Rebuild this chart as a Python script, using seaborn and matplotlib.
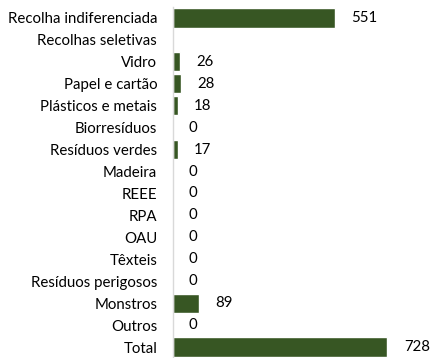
import matplotlib
matplotlib.use("Agg")
import matplotlib.pyplot as plt
import seaborn as sns
import pandas as pd

categorias = [
    "Recolha indiferenciada", "Recolhas seletivas", "Vidro", "Papel e cartão",
    "Plásticos e metais", "Biorresíduos", "Resíduos verdes", "Madeira", "REEE",
    "RPA", "OAU", "Têxteis", "Resíduos perigosos", "Monstros", "Outros", "Total",
]
valores = [551, None, 26, 28, 18, 0, 17, 0, 0, 0, 0, 0, 0, 89, 0, 728]

df = pd.DataFrame({"categoria": categorias, "valor": valores})

sns.set_theme(style="white")
plt.rcParams["font.family"] = ["Lato", "DejaVu Sans"]

fig = plt.figure(figsize=(4.30, 3.58), dpi=100)
ax = fig.add_axes([172.5 / 430, 0.0, 1 - 172.5 / 430, 351 / 358])

sns.barplot(data=df, x="valor", y="categoria", orient="h", color="#375623",
            saturation=1, width=0.88, ax=ax)

ax.set_xlim(0, 872)
ax.set_ylim(15.5, -0.5)
ax.set_xlabel("")
ax.set_ylabel("")
ax.set_xticks([])
ax.tick_params(axis="y", length=0, pad=11, labelsize=10.8, labelcolor="#000000")

for side in ["top", "right", "bottom"]:
    ax.spines[side].set_visible(False)
ax.spines["left"].set_color("#d9d9d9")
ax.spines["left"].set_linewidth(1.0)

# value labels after each bar (the empty group header gets none)
for i, v in enumerate(df["valor"]):
    if pd.isna(v):
        continue
    ax.annotate(f"{int(v)}", xy=(v, i), xytext=(11.8, 0), textcoords="offset points",
                ha="left", va="center", fontsize=10.8, color="#000000")

fig.savefig("out.png", dpi=100)
